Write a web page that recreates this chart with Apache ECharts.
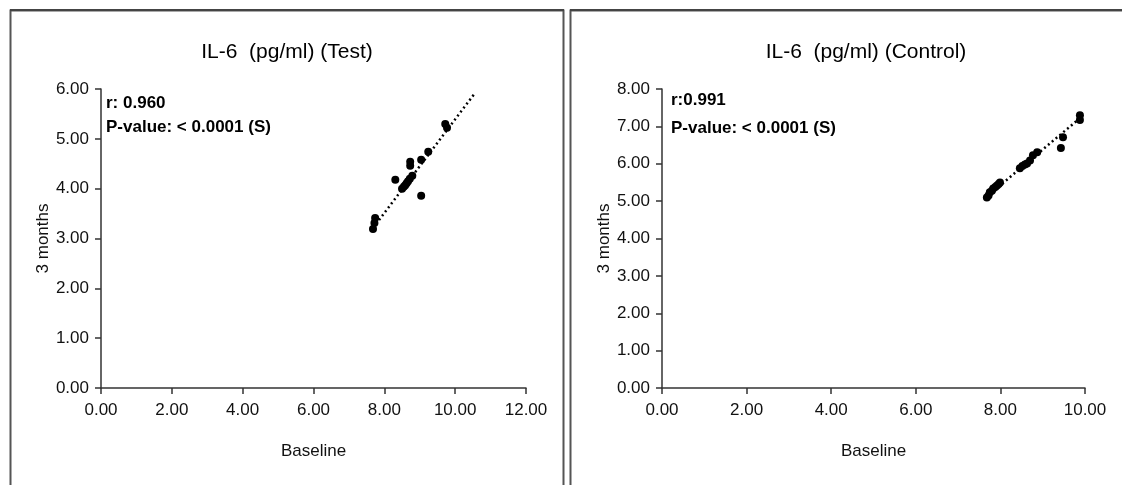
<!DOCTYPE html>
<html>
<head>
<meta charset="utf-8">
<script src="https://cdn.jsdelivr.net/npm/echarts@6/dist/echarts.min.js"></script>
<style>
    html, body {margin: 0; padding: 0; background: #fff;}
    #app {width: 1122px; height: 485px;}
</style>
</head>
<body>
<div id="app"></div>
<script>
//Test 组数据
var testBaseline = [7.68, 7.72, 7.74, 8.31, 8.50, 8.55, 8.59, 8.63, 8.67, 8.72, 8.73, 8.73, 8.79, 9.04, 9.04, 9.24, 9.72, 9.77, 10.54]
var testMonths = [3.19, 3.31, 3.41, 4.18, 4.00, 4.04, 4.07, 4.11, 4.15, 4.20, 4.46, 4.54, 4.26, 4.58, 3.86, 4.74, 5.30, 5.22, 6.04]
var testTrendX = [7.68, 10.54]
var testTrendY = [3.21, 5.90]

//Control 组数据
var controlBaseline = [7.68, 7.72, 7.75, 7.80, 7.83, 7.88, 7.92, 7.96, 7.99, 8.46, 8.52, 8.58, 8.63, 8.70, 8.77, 8.87, 9.43, 9.48, 9.88, 9.88]
var controlMonths = [5.10, 5.15, 5.24, 5.28, 5.34, 5.38, 5.42, 5.46, 5.50, 5.88, 5.94, 5.98, 6.01, 6.09, 6.23, 6.31, 6.42, 6.71, 7.17, 7.30]
var controlTrendX = [7.68, 9.88]
var controlTrendY = [5.12, 7.22]

var titles = ['IL-6  (pg/ml) (Test)', 'IL-6  (pg/ml) (Control)']
var stats = [['r: 0.960', 'P-value: < 0.0001 (S)'], ['r:0.991', 'P-value: < 0.0001 (S)']]

var font = '"Liberation Sans Narrow", "Liberation Sans", Arial, sans-serif'

var pairs = (xs, ys) => xs.map((x, i) => [x, ys[i]])

var xAxisOf = (idx, max) => ({
    gridIndex: idx,
    type: 'value',
    min: 0,
    max: max,
    interval: 2,
    name: 'Baseline',
    nameLocation: 'middle',
    nameGap: 55,
    nameTextStyle: {fontFamily: font, fontSize: 17, color: '#111'},
    axisLine: {show: true, lineStyle: {color: '#333', width: 1.5}},
    axisTick: {show: true, length: 6, lineStyle: {color: '#333', width: 1.5}},
    axisLabel: {fontFamily: font, fontSize: 17, color: '#111', margin: 14, formatter: (v) => v.toFixed(2)},
    splitLine: {show: false}
})

var yAxisOf = (idx, max) => ({
    gridIndex: idx,
    type: 'value',
    min: 0,
    max: max,
    interval: 1,
    name: '3 months',
    nameLocation: 'middle',
    nameGap: 46,
    nameRotate: 90,
    nameTextStyle: {fontFamily: font, fontSize: 17, color: '#111'},
    axisLine: {show: true, lineStyle: {color: '#333', width: 1.5}},
    axisTick: {show: true, length: 6, lineStyle: {color: '#333', width: 1.5}},
    axisLabel: {fontFamily: font, fontSize: 17, color: '#111', margin: 12, formatter: (v) => v.toFixed(2)},
    splitLine: {show: false}
})

var dots = (idx, data) => ({
    type: 'scatter',
    xAxisIndex: idx,
    yAxisIndex: idx,
    data: data,
    symbolSize: 8,
    itemStyle: {color: '#000', opacity: 1},
    z: 3
})

var trend = (idx, data) => ({
    type: 'line',
    xAxisIndex: idx,
    yAxisIndex: idx,
    data: data,
    symbol: 'none',
    lineStyle: {color: '#000', width: 2.5, type: [2, 3]},
    z: 2
})

var textOf = (left, top, str, size, bold) => ({
    type: 'text',
    left: left,
    top: top,
    style: {text: str, fontFamily: font, fontSize: size, fontWeight: bold ? 'bold' : 'normal', fill: '#000'}
})

var chart = echarts.init(document.getElementById('app'))

chart.setOption({
    animation: false,
    grid: [
        {left: 101, top: 89, width: 425, height: 299},
        {left: 662, top: 89, width: 423, height: 299}
    ],
    xAxis: [xAxisOf(0, 12), xAxisOf(1, 10)],
    yAxis: [yAxisOf(0, 6), yAxisOf(1, 8)],
    series: [
        trend(0, pairs(testTrendX, testTrendY)),
        dots(0, pairs(testBaseline, testMonths)),
        trend(1, pairs(controlTrendX, controlTrendY)),
        dots(1, pairs(controlBaseline, controlMonths))
    ],
    graphic: [
        //面板边框
        {type: 'rect', shape: {x: 10.5, y: 10.5, width: 553, height: 480}, style: {fill: 'none', stroke: '#555', lineWidth: 2}},
        {type: 'rect', shape: {x: 10, y: 9, width: 554, height: 2}, style: {fill: '#444'}},
        {type: 'rect', shape: {x: 570.5, y: 10.5, width: 560, height: 480}, style: {fill: 'none', stroke: '#555', lineWidth: 2}},
        {type: 'rect', shape: {x: 570, y: 9, width: 560, height: 2}, style: {fill: '#444'}},
        //标题
        {type: 'text', x: 287, y: 52, style: {text: titles[0], fontFamily: font, fontSize: 21, fill: '#000', align: 'center', verticalAlign: 'middle'}},
        {type: 'text', x: 866, y: 52, style: {text: titles[1], fontFamily: font, fontSize: 21, fill: '#000', align: 'center', verticalAlign: 'middle'}},
        //统计信息
        textOf(106, 95, stats[0][0], 17, true),
        textOf(106, 119, stats[0][1], 17, true),
        textOf(671, 92, stats[1][0], 17, true),
        textOf(671, 120, stats[1][1], 17, true)
    ]
})
</script>
</body>
</html>
